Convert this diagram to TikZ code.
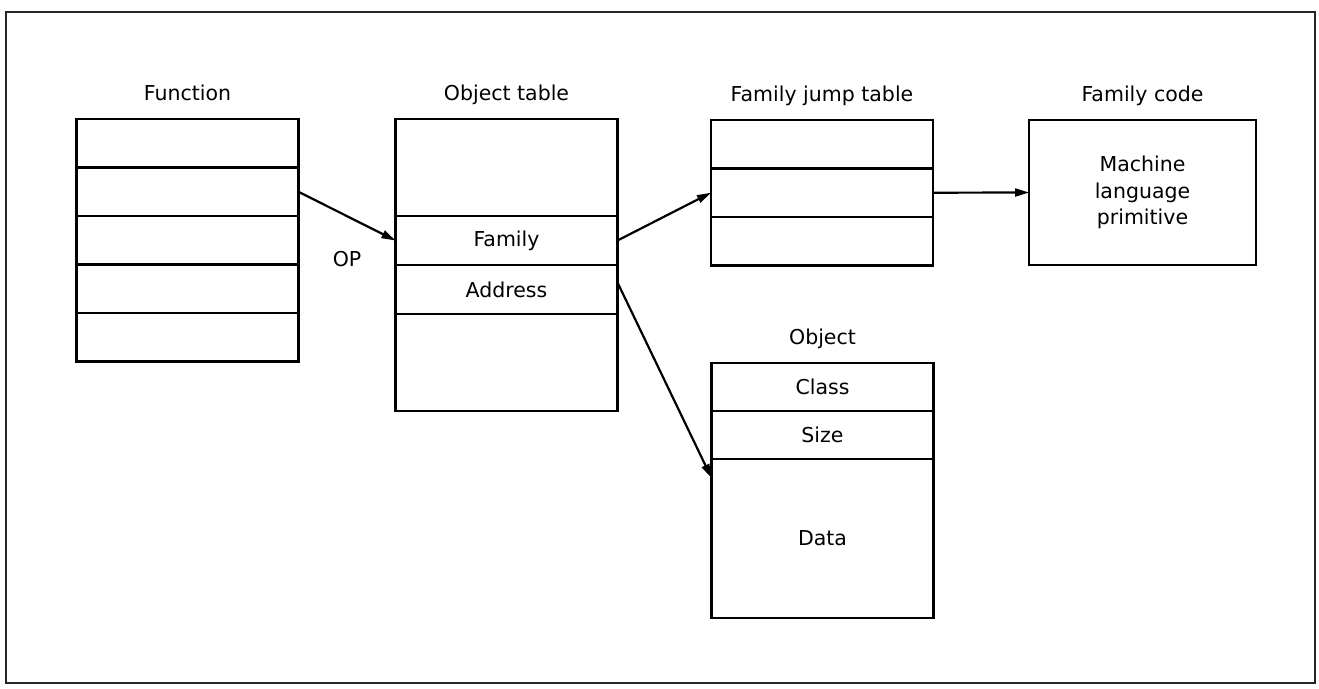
\documentclass[tikz,border=0pt]{standalone}
\usepackage{fontspec}
\setmainfont{DejaVu Sans}
\usetikzlibrary{arrows.meta,positioning}
\begin{document}
\begin{tikzpicture}[x=1pt,y=-1pt,font=\fontsize{20.5}{26.5}\selectfont,node distance=0pt,
>={Triangle[length=14pt,width=8pt]},
cell/.style={draw,line width=2.8pt,minimum width=222pt,minimum height=48.5pt,inner sep=0pt,outer sep=0pt},
ttl/.style={inner sep=0pt,text height=1.5ex,text depth=.25ex},
arr/.style={->,line width=2.2pt}]
\useasboundingbox (0,0) rectangle (1319,688);
\draw[line width=1.6pt,black!85] (6,12) rectangle (1315,683);
\node[cell] (f1) at (187.5,143.3) {};
\node[cell,below=of f1] (f2) {};
\node[cell,below=of f2] (f3) {};
\node[cell,below=of f3] (f4) {};
\node[cell,below=of f4] (f5) {};
\node[ttl,above=17pt of f1] (tfun) {Function};
\node[cell,minimum height=97pt] (o1) at (506.5,167.5) {};
\node[cell,minimum height=49pt,below=of o1] (fam) {Family};
\node[cell,minimum height=49pt,below=of fam] (adr) {Address};
\node[cell,minimum height=97pt,below=of adr] (o4) {};
\node[ttl,above=17pt of o1] (tobj) {Object table};
\node[cell] (j1) at (822,144.2) {};
\node[cell,below=of j1] (j2) {};
\node[cell,below=of j2] (j3) {};
\node[ttl,above=17pt of j1] (tjmp) {Family jump table};
\node[cell,minimum width=227pt,minimum height=145pt,align=center] (code) at (1142.5,192.5) {Machine\\language\\primitive};
\node[ttl,above=17pt of code] (tcode) {Family code};
\node[cell,minimum height=48pt] (cls) at (822.5,387) {Class};
\node[cell,minimum height=48pt,below=of cls] (siz) {Size};
\node[cell,minimum height=159pt,below=of siz] (data) {Data};
\node[ttl,above=17pt of cls] (tob) {Object};
\draw[arr] (f2.east) -- node[inner sep=0pt,below=34pt] (op) {OP} (fam.west);
\draw[arr] (fam.east) -- (j2.west);
\draw[arr] (j2.east) -- (code.west);
\draw[arr] ([yshift=7pt]adr.east) -- ([yshift=-19pt]data.north west);
\end{tikzpicture}
\end{document}
